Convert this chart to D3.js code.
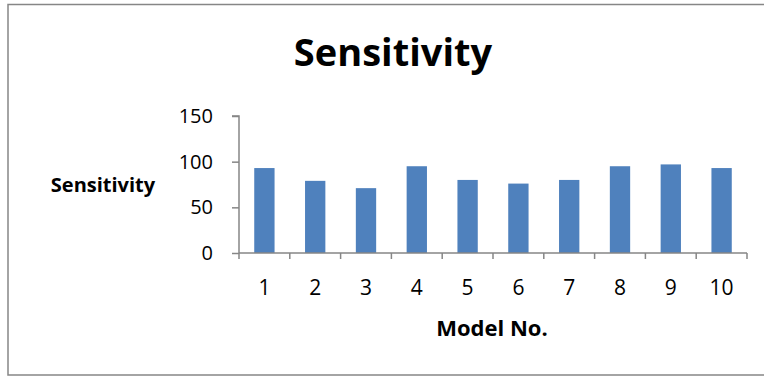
<!DOCTYPE html>
<html>
<head>
<meta charset="utf-8">
<script src="https://cdn.jsdelivr.net/npm/d3@7"></script>
<style>
  html, body { margin: 0; padding: 0; background: #fff; }
  svg { display: block; }
  text { font-family: "Open Sans", Lato, sans-serif; fill: #000; font-variant-ligatures: none; }
</style>
</head>
<body>
<svg id="chart" width="764" height="376"></svg>
<script>
// Sensitivity (%) per model
const models = ["1", "2", "3", "4", "5", "6", "7", "8", "9", "10"];
const sensitivity = [93, 79, 71, 95, 80, 76, 80, 95, 97, 93];
const yTicks = [0, 50, 100, 150];

const chartTitle = "Sensitivity";
const xTitle = "Model No.";
const yTitle = "Sensitivity";

const svg = d3.select("#chart");
const W = 764, H = 376;
const plot = { left: 239, right: 747, top: 116, bottom: 253 };
const axisColor = "#868686";
const barColor = "#4F81BD";
const font = "'Open Sans', Lato, sans-serif";

// outer frame
svg.append("rect")
  .attr("x", 8).attr("y", 4.5)
  .attr("width", W).attr("height", 370.5)
  .attr("fill", "#fff")
  .attr("stroke", axisColor).attr("stroke-width", 1.5);

const x = d3.scaleBand()
  .domain(models)
  .range([plot.left, plot.right])
  .paddingInner(0.6)
  .paddingOuter(0.3);

const y = d3.scaleLinear()
  .domain([0, 150])
  .range([plot.bottom, plot.top]);

// bars
svg.append("g").selectAll("rect")
  .data(models.map((m, i) => ({ m, v: sensitivity[i] })))
  .join("rect")
  .attr("x", d => x(d.m))
  .attr("y", d => y(d.v))
  .attr("width", x.bandwidth())
  .attr("height", d => y(0) - y(d.v))
  .attr("fill", barColor);

// y axis
const yAxis = svg.append("g")
  .attr("transform", `translate(${plot.left},0)`)
  .call(d3.axisLeft(y).tickValues(yTicks).tickSize(7).tickPadding(19));
yAxis.selectAll("path, line").attr("stroke", axisColor).attr("stroke-width", 1.5);
yAxis.select(".domain").attr("d", `M-7,${plot.top}H0V${plot.bottom}`);
yAxis.selectAll("text")
  .style("font-family", font)
  .attr("font-size", 20).attr("fill", "#000");

// x axis: labels centred on bars, tick marks between categories
const xAxis = svg.append("g")
  .attr("transform", `translate(0,${plot.bottom})`)
  .call(d3.axisBottom(x).tickSize(0).tickPadding(27));
xAxis.select(".domain").attr("stroke", axisColor).attr("stroke-width", 1.5)
  .attr("d", `M${plot.left},0H${plot.right}`);
xAxis.selectAll("text")
  .style("font-family", font)
  .attr("font-size", 21).attr("fill", "#000");

const step = x.step();
const boundaries = d3.range(models.length + 1).map(i => plot.left + i * step);
xAxis.append("g").selectAll("line")
  .data(boundaries)
  .join("line")
  .attr("x1", d => d).attr("x2", d => d)
  .attr("y1", 0).attr("y2", 6)
  .attr("stroke", axisColor).attr("stroke-width", 1.5);

// titles
svg.append("text")
  .attr("x", 393).attr("y", 66)
  .attr("text-anchor", "middle")
  .attr("font-size", 38).attr("font-weight", "bold")
  .text(chartTitle);

svg.append("text")
  .attr("x", 103).attr("y", 192)
  .attr("text-anchor", "middle")
  .attr("font-size", 20).attr("font-weight", "bold")
  .text(yTitle);

svg.append("text")
  .attr("x", 492).attr("y", 336)
  .attr("text-anchor", "middle")
  .attr("font-size", 22).attr("font-weight", "bold")
  .text(xTitle);
</script>
</body>
</html>
